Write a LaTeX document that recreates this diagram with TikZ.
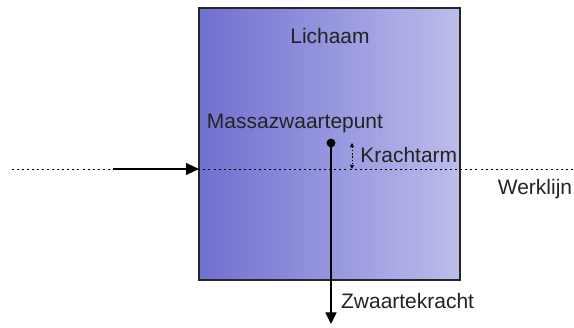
\documentclass[tikz,border=0pt]{standalone}
\usepackage{fontspec}
\setmainfont{Liberation Sans}
\usetikzlibrary{arrows.meta, positioning}
\definecolor{boxleft}{RGB}{112,112,208}
\definecolor{boxright}{RGB}{188,188,236}
\definecolor{tekst}{RGB}{35,35,35}

\begin{document}
\begin{tikzpicture}[x=0.03cm, y=-0.03cm, font=\fontsize{17.9}{20}\selectfont, text=tekst]
\useasboundingbox (0,0) rectangle (574,328);

% lichaam
\draw[line width=1.2pt, draw=black!85, left color=boxleft, right color=boxright] (199,8) rectangle (460,280);
\node (lichaam) at (330,36) {Lichaam};

% werklijn
\coordinate (wl-start) at (12,169);
\coordinate (wl-end) at (574,169);
\draw[dash pattern=on 1.7pt off 2.6pt, line width=0.6pt] (wl-start) -- (wl-end);
\node (werklijn) at (535,189) {Werklijn};

% kracht op het lichaam
\coordinate (kr-start) at (113,169);
\coordinate (kr-end) at (199,169);
\draw[line width=1.3pt, -{Triangle[length=11pt, width=10pt]}] (kr-start) -- (kr-end);

% massazwaartepunt en zwaartekracht
\node (mzp-label) at (295,123) {Massazwaartepunt};
\node[circle, fill=black, inner sep=0pt, minimum size=7.5pt] (mzp) at (331,143) {};
\coordinate (zk-end) at (331,324);
\draw[line width=1.1pt, -{Triangle[length=10pt, width=9.5pt]}] (mzp.center) -- (zk-end);
\node[anchor=west] (zwaartekracht) at (337,301) {Zwaartekracht};

% krachtarm
\coordinate (ka-top) at (352,143);
\coordinate (ka-bot) at (352,169);
\draw[dash pattern=on 1.2pt off 1.5pt, line width=0.6pt, {Triangle[length=3.5pt, width=3.5pt]}-{Triangle[length=3.5pt, width=3.5pt]}] (ka-top) -- (ka-bot);
\node[anchor=west, inner sep=1pt] (krachtarm) at (359,155) {Krachtarm};
\end{tikzpicture}
\end{document}
